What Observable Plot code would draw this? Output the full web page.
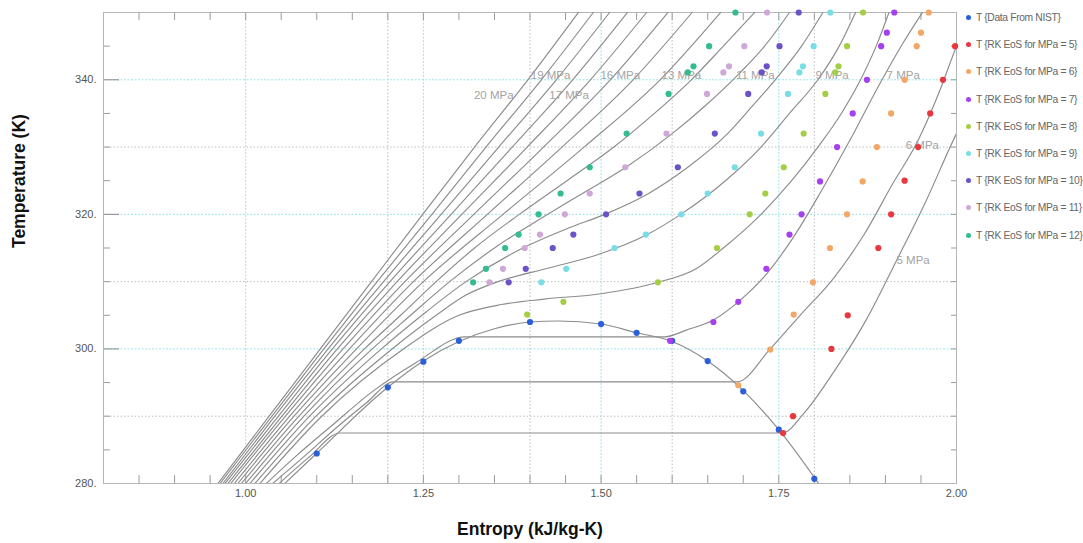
<!DOCTYPE html>
<html><head><meta charset="utf-8">
<script src="https://cdn.jsdelivr.net/npm/d3@7"></script>
<script src="https://cdn.jsdelivr.net/npm/@observablehq/plot@0.6"></script>
<style>
body{margin:0;background:#fff;font-family:"Liberation Sans",Arial,sans-serif;}
#wrap{position:relative;width:1083px;height:543px;overflow:hidden}
#legend{position:absolute;left:966px;top:4px;font-size:10.3px;color:#666;}
.item{height:27.2px;display:flex;align-items:center;white-space:nowrap;letter-spacing:-0.35px}
.dot{width:5px;height:5px;border-radius:50%;margin-right:5px;flex:none}
</style></head><body><div id="wrap"><div id="legend"></div></div>
<script>
// ---------- axis ticks ----------
const xTickLabels = [1.00, 1.25, 1.50, 1.75, 2.00];
const yTickLabels = [280, 300, 320, 340];
const xGridGray = [1.2, 1.4, 1.6, 1.8];
const xGridCyan = [1.0, 1.25, 1.5, 1.75];
const yGridGray = [290, 310, 330];
const yGridCyan = [300, 320, 340];
const xMinorTicks = [0.85,0.9,0.95,1.0,1.05,1.1,1.15,1.2,1.25,1.3,1.35,1.4,1.45,1.5,1.55,1.6,1.65,1.7,1.75,1.8,1.85,1.9,1.95];
const yMinorTicks = [285,290,295,305,310,315,325,330,335,345];
const yMajorTicks = [300,320,340];

// ---------- NIST saturation dome (gray line) ----------
const domeS = [1.055,1.10,1.20,1.25,1.30,1.35,1.40,1.44,1.50,1.55,1.60,1.65,1.70,1.75,1.806];
const domeT = [280,284.5,294.3,298.2,301.1,303.0,304.0,304.15,303.7,302.4,301.1,298.2,293.8,288.0,280];

// ---------- NIST isobars (gray lines) ----------
const p5S = [1.047,1.09,1.133,1.755,1.785,1.83,1.874,1.915,1.955,2.0,2.03];
const p5T = [280,284,287.5,287.5,290.4,297,304.5,313,321.5,332,338];
const p6S = [1.038,1.08,1.13,1.17,1.208,1.691,1.738,1.78,1.827,1.87,1.91,1.946,1.975,2.0,2.02];
const p6T = [280,283.8,288.5,292,295.1,295.1,300,305,310.5,317,324.5,331,338,345,350];
const p7S = [1.029,1.07,1.12,1.18,1.24,1.309,1.590,1.62,1.658,1.693,1.73,1.77,1.81,1.85,1.89,1.925,1.952];
const p7T = [280,284,288.5,293.8,298,301.8,301.8,302.8,304.3,307,310.8,316.5,323.5,331,339,345.5,350];
const p8S = [1.020,1.107,1.222,1.300,1.36,1.42,1.50,1.58,1.635,1.672,1.725,1.768,1.805,1.838,1.865,1.887,1.905];
const p8T = [280,290,300,305,306.6,307.4,308.2,309.9,312,315,320,325,330,335,340,345,350];
const p9S = [1.013,1.099,1.206,1.268,1.31,1.355,1.425,1.495,1.565,1.612,1.675,1.725,1.765,1.805,1.835,1.858];
const p9T = [280,290,300,305,308,310,312,314,317,320,325,330,335,340,345,350];
const p10S = [1.006,1.090,1.191,1.248,1.310,1.390,1.455,1.505,1.565,1.622,1.678,1.712,1.745,1.782,1.812];
const p10T = [280,290,300,305,310,315,318,320,323,327,332,336,340,345,350];
const p11S = [1.000,1.082,1.178,1.232,1.287,1.350,1.425,1.472,1.535,1.600,1.645,1.695,1.730,1.765];
const p11T = [280,290,300,305,310,315,320,323,327,332,336,341,345,350];
const p12S = [0.994,1.075,1.167,1.218,1.268,1.322,1.385,1.452,1.518,1.575,1.627,1.672,1.716];
const p12T = [280,290,300,305,310,315,320,325,330,335,340,345,350];
const hiT  = [280,290,300,310,320,330,340,350];
const p13S = [0.989,1.068,1.156,1.250,1.362,1.476,1.583,1.668];
const p14S = [0.984,1.062,1.146,1.236,1.340,1.445,1.545,1.628];
const p15S = [0.979,1.056,1.137,1.224,1.321,1.419,1.513,1.594];
const p16S = [0.975,1.051,1.129,1.213,1.304,1.396,1.485,1.564];
const p17S = [0.971,1.046,1.122,1.203,1.289,1.375,1.460,1.537];
const p18S = [0.968,1.041,1.116,1.194,1.275,1.356,1.437,1.512];
const p19S = [0.964,1.037,1.110,1.185,1.262,1.338,1.416,1.489];
const p20S = [0.961,1.033,1.105,1.177,1.249,1.322,1.397,1.468];

// ---------- isobar labels ----------
const labelText = ["20 MPa","19 MPa","17 MPa","16 MPa","13 MPa","11 MPa","9 MPa","7 MPa","6 MPa","5 MPa"];
const labelS    = [1.349,1.429,1.455,1.527,1.613,1.717,1.825,1.925,1.952,1.939];
const labelT    = [337.7,340.7,337.7,340.7,340.7,340.7,340.7,340.7,330.3,313.2];

// ---------- points: NIST data ----------
const nistS = [1.10,1.20,1.25,1.30,1.40,1.50,1.55,1.60,1.65,1.70,1.75,1.80];
const nistT = [284.46,294.3,298.1,301.2,304.0,303.7,302.4,301.2,298.2,293.7,288.0,280.7];
// ---------- points: RK EoS ----------
const rk5S = [1.756,1.770,1.824,1.847,1.890,1.908,1.927,1.946,1.963,1.981,1.998];
const rk5T = [287.5,290,300,305,315,320,325,330,335,340,345];
const rk6S = [1.693,1.738,1.771,1.798,1.822,1.846,1.868,1.888,1.908,1.927,1.944,1.950,1.961];
const rk6T = [294.6,299.9,305.1,309.9,315,320,324.9,330,335,340,345,347,350];
const rk7S = [1.597,1.658,1.693,1.7325,1.765,1.782,1.808,1.832,1.854,1.874,1.894,1.902,1.9125];
const rk7T = [301.2,304,307,311.9,317,320,324.9,330,335,340,345,347,350];
const rk8S = [1.396,1.447,1.580,1.663,1.709,1.731,1.757,1.785,1.8155,1.8295,1.834,1.846,1.8685];
const rk8T = [305.1,307,309.9,315,320,323.1,327,332,337.9,341.1,342,345,350];
const rkHiT = [309.9,311.9,315,317,320,323.1,327,332,337.9,341.1,342,345,350];
const rk9S  = [1.416,1.451,1.519,1.563,1.613,1.650,1.688,1.725,1.763,1.779,1.784,1.799,1.8225];
const rk10S = [1.370,1.394,1.432,1.461,1.507,1.554,1.608,1.660,1.707,1.726,1.733,1.751,1.778];
const rk11S = [1.343,1.362,1.3925,1.414,1.449,1.484,1.534,1.592,1.649,1.672,1.680,1.7015,1.7335];
const rk12S = [1.320,1.338,1.365,1.384,1.412,1.443,1.484,1.536,1.595,1.622,1.630,1.652,1.689];

const seriesNames = ["T {Data From NIST}","T {RK EoS for MPa = 5}","T {RK EoS for MPa = 6}","T {RK EoS for MPa = 7}","T {RK EoS for MPa = 8}","T {RK EoS for MPa = 9}","T {RK EoS for MPa = 10}","T {RK EoS for MPa = 11}","T {RK EoS for MPa = 12}"];
const seriesColors = ["#2b5fd9","#e8383d","#f2a766","#a63ff0","#a3cf45","#78dde6","#6b52c9","#d0a8d8","#33bd8c"];

// ---------- build tables ----------
const zip = (S, T, key) => S.map((s, i) => ({s, T: T[i], key}));
const isobars = [
  ["5", p5S, p5T], ["6", p6S, p6T], ["7", p7S, p7T], ["8", p8S, p8T],
  ["9", p9S, p9T], ["10", p10S, p10T], ["11", p11S, p11T], ["12", p12S, p12T],
  ["13", p13S, hiT], ["14", p14S, hiT], ["15", p15S, hiT], ["16", p16S, hiT],
  ["17", p17S, hiT], ["18", p18S, hiT], ["19", p19S, hiT], ["20", p20S, hiT]
].flatMap(([k, S, T]) => zip(S, T, k));
const dome = zip(domeS, domeT, "dome");
const points = [
  [nistS, nistT], [rk5S, rk5T], [rk6S, rk6T], [rk7S, rk7T], [rk8S, rk8T],
  [rk9S, rkHiT], [rk10S, rkHiT], [rk11S, rkHiT], [rk12S, rkHiT]
].flatMap(([S, T], i) => zip(S, T, seriesNames[i]));
const labels = labelText.map((t, i) => ({t, s: labelS[i], T: labelT[i]}));

const mL = 103, mR = 127, mT = 12, mB = 60, W = 1083, H = 543;
const fw = W - mL - mR, fh = H - mT - mB;

const chart = Plot.plot({
  width: W, height: H,
  marginLeft: mL, marginRight: mR, marginTop: mT, marginBottom: mB,
  x: {domain: [0.8, 2.0], axis: null},
  y: {domain: [280, 350], axis: null},
  style: {fontFamily: "Liberation Sans, Arial, sans-serif", background: "#fff"},
  marks: [
    Plot.ruleY(yGridGray, {stroke: "#bdbdbd", strokeDasharray: "1.5,2"}),
    Plot.ruleX(xGridGray, {stroke: "#bdbdbd", strokeDasharray: "1.5,2"}),
    Plot.ruleY(yGridCyan, {stroke: "#9ee3ec", strokeDasharray: "2,1.5"}),
    Plot.ruleX(xGridCyan, {stroke: "#9ee3ec", strokeDasharray: "2,1.5"}),
    Plot.tickX(xMinorTicks, {x: d => d, insetTop: fh - 8, stroke: "#9a9a9a"}),
    Plot.tickX(xMinorTicks, {x: d => d, insetBottom: fh - 8, stroke: "#9a9a9a"}),
    Plot.tickY(yMinorTicks, {y: d => d, insetRight: fw - 7, stroke: "#9a9a9a"}),
    Plot.tickY(yMajorTicks, {y: d => d, insetRight: fw - 16, stroke: "#8a8a8a"}),
    Plot.tickY(yMinorTicks.concat(yMajorTicks), {y: d => d, insetLeft: fw - 5, stroke: "#9a9a9a"}),
    Plot.frame({stroke: "#b5b5b5"}),
    Plot.line(isobars, {x: "s", y: "T", z: "key", curve: "monotone-x", stroke: "#8c8c8c", strokeWidth: 1.15, clip: true}),
    Plot.line(dome, {x: "s", y: "T", curve: "monotone-x", stroke: "#8c8c8c", strokeWidth: 1.15, clip: true}),
    Plot.text(labels, {x: "s", y: "T", text: "t", fill: "#a3a3a3", fontSize: 11.5}),
    Plot.dot(points, {x: "s", y: "T", r: 3.1, fill: "key", stroke: null}),
    Plot.axisX(xTickLabels, {tickSize: 0, tickPadding: 6, tickFormat: d => d.toFixed(2), fontSize: 11, fill: "#555", label: null}),
    Plot.axisY(yTickLabels, {tickSize: 0, tickPadding: 7, tickFormat: d => d + ".", fontSize: 11, fill: "#555", label: null}),
    Plot.text(["Temperature (K)"], {text: d => d, frameAnchor: "left", dx: -84, rotate: -90, fontWeight: "bold", fontSize: 17.5, fill: "#111"}),
    Plot.text(["Entropy (kJ/kg-K)"], {text: d => d, frameAnchor: "bottom", dy: 51, fontWeight: "bold", fontSize: 17.5, fill: "#111"})
  ],
  color: {domain: seriesNames, range: seriesColors}
});
document.getElementById("wrap").prepend(chart);

const leg = document.getElementById("legend");
seriesNames.forEach((n, i) => {
  const it = document.createElement("div"); it.className = "item";
  const d = document.createElement("span"); d.className = "dot"; d.style.background = seriesColors[i];
  it.appendChild(d); it.appendChild(document.createTextNode(n)); leg.appendChild(it);
});
</script></body></html>
